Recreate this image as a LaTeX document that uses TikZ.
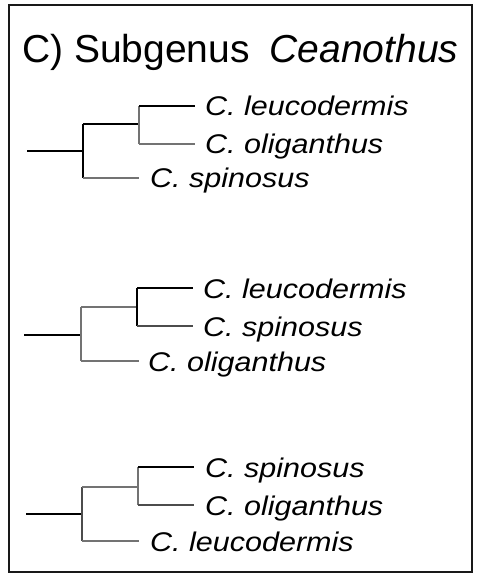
\documentclass[tikz,border=0pt]{standalone}
\usepackage{fontspec}
\setmainfont{Liberation Sans}
\newfontfamily\labfont[FakeStretch=1.13]{Liberation Sans}
\begin{document}
\begin{tikzpicture}[x=1pt,y=-1pt,
  blk/.style={draw=black,line width=1.7pt},
  thk/.style={draw=black,line width=2.2pt},
  gr/.style={draw=black!55,line width=1.4pt},
  dg/.style={draw=black!70,line width=1.9pt},
  lab/.style={anchor=base west,inner sep=0pt,font=\labfont\fontsize{27}{27}\selectfont\itshape},
  ttl/.style={anchor=base west,inner sep=0pt,font=\fontsize{39}{39}\selectfont}]
\useasboundingbox (0,0) rectangle (481,577);
\fill[white] (0,0) rectangle (481,577);
\draw[line width=2.6pt,black!90] (9,5) rectangle (472,572);
\node[ttl] (title) at (22,63) {C) Subgenus\hspace{9pt} \textit{Ceanothus}};

% Tree 1
\coordinate (r1) at (27,151);
\coordinate (a1) at (83,151);
\coordinate (a1t) at (83,124);
\coordinate (a1b) at (83,178);
\coordinate (b1) at (139,124);
\coordinate (b1t) at (139,106);
\coordinate (b1b) at (139,144);
\coordinate (e11) at (195,106);
\coordinate (e12) at (195,144);
\coordinate (e13) at (139,178);
\node[lab] (t11) at (205,116) {C. leucodermis};
\node[lab] (t12) at (205,154) {C. oliganthus};
\node[lab] (t13) at (150,188) {C. spinosus};
\draw[blk] (r1) -- (a1);
\draw[thk] (a1t) -- (a1b);
\draw[blk] (a1t) -- (b1);
\draw[gr] (b1t) -- (b1b);
\draw[blk] (b1t) -- (e11);
\draw[gr] (b1b) -- (e12);
\draw[gr] (a1b) -- (e13);

% Tree 2
\coordinate (r2) at (24,335);
\coordinate (a2) at (81,335);
\coordinate (a2t) at (81,307);
\coordinate (a2b) at (81,361);
\coordinate (b2) at (137,307);
\coordinate (b2t) at (137,288);
\coordinate (b2b) at (137,326);
\coordinate (e21) at (193,288);
\coordinate (e22) at (193,326);
\coordinate (e23) at (139,361);
\node[lab] (t21) at (203,298) {C. leucodermis};
\node[lab] (t22) at (203,336) {C. spinosus};
\node[lab] (t23) at (148,371) {C. oliganthus};
\draw[thk] (r2) -- (a2);
\draw[gr] (a2t) -- (a2b);
\draw[gr] (a2t) -- (b2);
\draw[blk] (b2t) -- (b2b);
\draw[blk] (b2t) -- (e21);
\draw[dg] (b2b) -- (e22);
\draw[gr] (a2b) -- (e23);

% Tree 3
\coordinate (r3) at (26,514);
\coordinate (a3) at (82,514);
\coordinate (a3t) at (82,487);
\coordinate (a3b) at (82,541);
\coordinate (b3) at (138,487);
\coordinate (b3t) at (138,467);
\coordinate (b3b) at (138,505);
\coordinate (e31) at (194,467);
\coordinate (e32) at (194,505);
\coordinate (e33) at (139,541);
\node[lab] (t31) at (205,477) {C. spinosus};
\node[lab] (t32) at (205,515) {C. oliganthus};
\node[lab] (t33) at (150,551) {C. leucodermis};
\draw[thk] (r3) -- (a3);
\draw[dg] (a3t) -- (a3b);
\draw[gr] (a3t) -- (b3);
\draw[gr] (b3t) -- (b3b);
\draw[blk] (b3t) -- (e31);
\draw[dg] (b3b) -- (e32);
\draw[gr] (a3b) -- (e33);
\end{tikzpicture}
\end{document}
